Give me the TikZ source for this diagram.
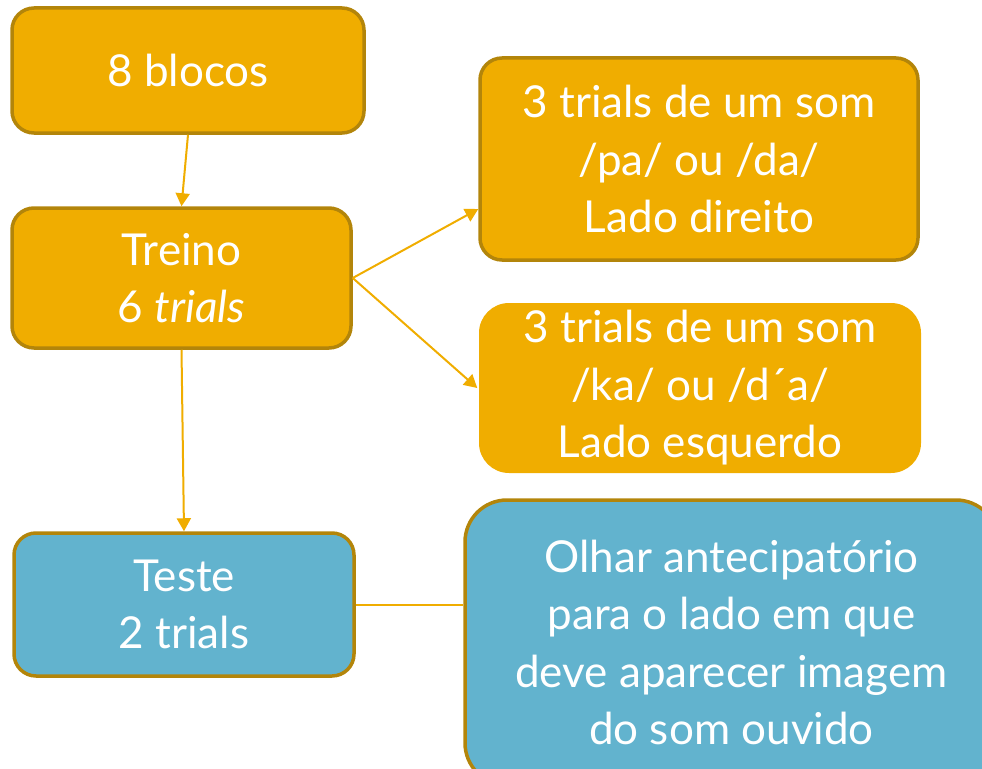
\documentclass[tikz,border=0pt]{standalone}
\usepackage{fontspec}
\setmainfont{Lato}
\usetikzlibrary{arrows.meta,calc}
\definecolor{gold}{HTML}{F0AD00}
\definecolor{golddark}{HTML}{B3850A}
\definecolor{bluebox}{HTML}{62B3CE}
\tikzset{
  box/.style={rectangle, rounded corners=22pt, fill=gold, draw=golddark, line width=3.5pt,
    text=white, align=center, font=\fontsize{44}{57.5}\selectfont, inner sep=0pt},
  plainbox/.style={box, draw=none, rounded corners=30pt},
  bluebx/.style={box, fill=bluebox},
  conn/.style={draw=gold, line width=2pt},
  arr/.style={conn, -{Triangle[length=13pt,width=14pt]}}
}
\begin{document}
\begin{tikzpicture}[x=1pt,y=-1pt]
\useasboundingbox (0,0) rectangle (982,768);
\clip (0,0) rectangle (982,768);
\node[box, minimum width=352pt, minimum height=125pt] (b1) at (188,70.5) {8 blocos};
\node[box, minimum width=339pt, minimum height=140pt] (b2) at (181.5,278) {Treino\\6 \textit{trials}};
\node[box, minimum width=438pt, minimum height=202pt] (b3) at (699,159) {3 trials de um som\\/pa/ ou /da/\\Lado direito};
\node[plainbox, minimum width=442pt, minimum height=170pt] (b4) at (700,388) {3 trials de um som\\/ka/ ou /d´a/\\Lado esquerdo};
\node[bluebx, minimum width=340pt, minimum height=143pt] (b5) at (184,604.5) {Teste\\2 trials};
\node[bluebx, rounded corners=42pt, minimum width=533pt, minimum height=285pt] (b6) at (731.5,642.5) {Olhar antecipatório\\para o lado em que\\deve aparecer imagem\\do som ouvido};
\draw[arr] (b1.south) -- (b2.north);
\draw[arr] (b2.east) -- ([yshift=-50pt]b3.west);
\draw[arr] (b2.east) -- (b4.west);
\draw[arr] (b2.south) -- (b5.north);
\draw[conn] (b5.east) -- (b5.east -| b6.west);
\end{tikzpicture}
\end{document}
